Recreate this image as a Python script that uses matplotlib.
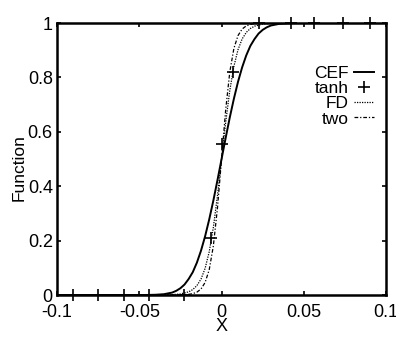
import matplotlib
matplotlib.use("Agg")
import matplotlib.pyplot as plt
from matplotlib import font_manager

# ---- data ----
cef_x = [-0.1, -0.05, -0.045, -0.04, -0.035, -0.03, -0.0275, -0.025, -0.0225, -0.02, -0.0175,
         -0.015, -0.0125, -0.01, -0.0075, -0.005, -0.0025, 0.0, 0.0025, 0.005, 0.0075, 0.01,
         0.0125, 0.015, 0.0175, 0.02, 0.0225, 0.025, 0.0275, 0.03, 0.035, 0.04, 0.045, 0.05, 0.1]
cef_y = [0.0, 0.0, 0.0002, 0.001, 0.003, 0.009, 0.0156, 0.025, 0.0386, 0.059, 0.084,
         0.119, 0.163, 0.216, 0.278, 0.347, 0.422, 0.5, 0.578, 0.653, 0.722, 0.784,
         0.837, 0.881, 0.916, 0.941, 0.9614, 0.975, 0.9844, 0.991, 0.997, 0.999, 0.9998, 1.0, 1.0]

fd_x = [-0.1, -0.03, -0.025, -0.02, -0.0175, -0.015, -0.0125, -0.01, -0.0075, -0.005, -0.0025,
        0.0, 0.0025, 0.005, 0.0075, 0.01, 0.0125, 0.015, 0.0175, 0.02, 0.025, 0.03, 0.1]
fd_y = [0.0, 0.0013, 0.0038, 0.0116, 0.020, 0.0345, 0.0585, 0.098, 0.159, 0.248, 0.365,
        0.5, 0.635, 0.752, 0.841, 0.902, 0.9415, 0.9655, 0.980, 0.9884, 0.9962, 0.9987, 1.0]

two_x = [-0.1, -0.025, -0.02, -0.0175, -0.015, -0.0125, -0.01, -0.0075, -0.005, -0.0025,
         0.0, 0.0025, 0.005, 0.0075, 0.01, 0.0125, 0.015, 0.0175, 0.02, 0.025, 0.1]
two_y = [0.0, 0.0005, 0.0023, 0.005, 0.0105, 0.022, 0.046, 0.093, 0.180, 0.319,
         0.5, 0.681, 0.820, 0.907, 0.954, 0.978, 0.9895, 0.995, 0.9977, 0.9995, 1.0]

tanh_x = [-0.090, -0.075, -0.059, -0.044, -0.023, -0.0067, 0.0, 0.0067, 0.0225, 0.042, 0.056, 0.074, 0.090]
tanh_y = [0.0, 0.0, 0.0, 0.0, 0.0, 0.21, 0.555, 0.82, 1.0, 1.0, 1.0, 1.0, 1.0]

x_ticks = [-0.1, -0.05, 0, 0.05, 0.1]
x_ticklabels = ["-0.1", "-0.05", "0", "0.05", "0.1"]
y_ticks = [0, 0.2, 0.4, 0.6, 0.8, 1]
y_ticklabels = ["0", "0.2", "0.4", "0.6", "0.8", "1"]

names = [f.name for f in font_manager.fontManager.ttflist]
base = "Liberation Sans" if "Liberation Sans" in names else "DejaVu Sans"
plt.rcParams['font.family'] = [base, 'DejaVu Sans']

fig = plt.figure(figsize=(3.96, 3.37), dpi=100)
ax = fig.add_axes([0.144, 0.1246, 0.831, 0.807])

ax.plot(cef_x, cef_y, color='black', lw=1.4, ls='-', label='CEF')
ax.plot(tanh_x, tanh_y, ls='none', marker='+', ms=8, mew=1.2, color='black', label='tanh', clip_on=False)
ax.plot(fd_x, fd_y, color='black', lw=0.9, ls=(0, (1, 1)), label='FD')
ax.plot(two_x, two_y, color='black', lw=0.9, ls=(0, (3, 1.5, 1, 1.5)), label='two')

ax.set_xlim(-0.1, 0.1)
ax.set_ylim(0, 1)
ax.set_xticks(x_ticks)
ax.set_xticklabels(x_ticklabels)
ax.set_yticks(y_ticks)
ax.set_yticklabels(y_ticklabels)
ax.tick_params(axis='both', direction='in', length=3, width=1.2, top=True, right=True, labelsize=13)
ax.tick_params(axis='x', pad=6.5)
ax.tick_params(axis='y', pad=3)
for s in ax.spines.values():
    s.set_linewidth(1.8)

ax.set_xlabel('X', fontsize=13, labelpad=-2)
ax.set_ylabel('Function', fontsize=12.5)
ax.yaxis.set_label_coords(-0.091, 0.467)

leg = ax.legend(loc='upper right', bbox_to_anchor=(0.975, 0.855), frameon=False, markerfirst=False,
                fontsize=12.5, handlelength=1.2, handletextpad=0.3, labelspacing=0.0,
                borderaxespad=0.0, borderpad=0.2)

fig.savefig('out.png', dpi=100)
